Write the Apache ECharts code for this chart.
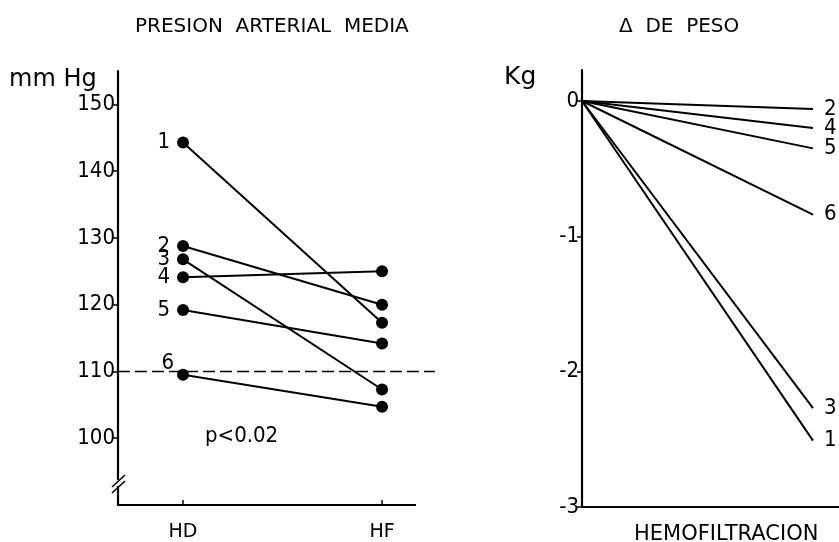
<!DOCTYPE html>
<html><head><meta charset="utf-8">
<script src="https://cdn.jsdelivr.net/npm/echarts@6/dist/echarts.min.js"></script>
<style>html,body{margin:0;padding:0;background:#fff}#c{width:839px;height:542px}</style>
</head><body><div id="c"></div>
<script>
// ---- data ----
const patients = ['1', '2', '3', '4', '5', '6'];
const periods = ['HD', 'HF'];
const pamHD = [144.3, 128.8, 126.8, 124.1, 119.2, 109.5];
const pamHF = [117.3, 120.0, 107.3, 125.0, 114.2, 104.7];
const pesoStart = [0, 0, 0, 0, 0, 0];
const pesoEnd = [-2.51, -0.06, -2.27, -0.20, -0.35, -0.84];
const pamTicks = [100, 110, 120, 130, 140, 150];
const pesoTicks = [-3, -2, -1, 0];
const refLine = 110;
const pLabel = 'p<0.02';

// ---- styles ----
const NARROW = '"Liberation Sans Narrow","DejaVu Sans Condensed","Arial Narrow",sans-serif';
const SANS = '"DejaVu Sans","Liberation Sans",sans-serif';
const INK = '#000';

const xL = { min: 0.6734, max: 2.266 };
const series = [];
patients.forEach((p, i) => {
  series.push({
    type: 'line', name: p, xAxisIndex: 0, yAxisIndex: 0,
    data: [
      { value: [1, pamHD[i]], label: { show: true, position: 'left', distance: 7,
          offset: p === '6' ? [4, -12] : [0, 0],
          formatter: p, fontSize: 22, fontFamily: NARROW, color: INK } },
      { value: [2, pamHF[i]] }
    ],
    symbol: 'circle', symbolSize: 12, showSymbol: true,
    itemStyle: { color: INK },
    lineStyle: { color: INK, width: 2 },
    animation: false, silent: true, z: 3
  });
});
// dashed reference line at 110 mmHg
series.push({
  type: 'line', name: 'ref', xAxisIndex: 0, yAxisIndex: 0,
  data: [[xL.min, refLine], [xL.max, refLine]],
  symbol: 'none', showSymbol: false,
  lineStyle: { color: INK, width: 1.6, type: [12, 5] },
  animation: false, silent: true, z: 2
});
patients.forEach((p, i) => {
  series.push({
    type: 'line', name: p, xAxisIndex: 1, yAxisIndex: 1,
    data: [[0, pesoStart[i]], [1, pesoEnd[i]]],
    symbol: 'none', showSymbol: false,
    lineStyle: { color: INK, width: 2 },
    endLabel: { show: true, formatter: p, distance: 11, fontSize: 22, fontFamily: NARROW, color: INK },
    animation: false, silent: true
  });
});

const option = {
  backgroundColor: '#fff',
  animation: false,
  grid: [
    { left: 118, top: 71, width: 317, height: 437 },
    { left: 582, top: 70, width: 257, height: 437 }
  ],
  xAxis: [
    { type: 'value', gridIndex: 0, min: xL.min, max: xL.max,
      axisLine: { show: true, onZero: false, lineStyle: { color: INK, width: 2.2 } },
      axisTick: { show: true, inside: true, length: 5, customValues: [1, 2], lineStyle: { color: INK, width: 1.5 } },
      axisLabel: { show: true, customValues: [1, 2], formatter: v => periods[Math.round(v) - 1],
        margin: 18, fontSize: 19, fontFamily: SANS, color: INK },
      splitLine: { show: false } },
    { type: 'value', gridIndex: 1, min: 0, max: 1.1126,
      axisLine: { show: true, onZero: false, lineStyle: { color: INK, width: 2.2 } },
      axisTick: { show: false }, axisLabel: { show: false }, splitLine: { show: false } }
  ],
  yAxis: [
    { type: 'value', gridIndex: 0, min: 90, max: 155,
      axisLine: { show: true, lineStyle: { color: INK, width: 2.2 } },
      axisTick: { show: true, length: 5, customValues: pamTicks, lineStyle: { color: INK, width: 1.5 } },
      axisLabel: { show: true, customValues: pamTicks, margin: 3, fontSize: 22, fontFamily: NARROW, color: INK },
      splitLine: { show: false } },
    { type: 'value', gridIndex: 1, min: -3, max: 0.229,
      axisLine: { show: true, onZero: false, lineStyle: { color: INK, width: 2.2 } },
      axisTick: { show: true, length: 5, customValues: pesoTicks, lineStyle: { color: INK, width: 1.5 } },
      axisLabel: { show: true, customValues: pesoTicks, margin: 3, fontSize: 22, fontFamily: NARROW, color: INK },
      splitLine: { show: false } }
  ],
  graphic: [
    { type: 'text', left: 135, top: 17, style: { text: 'PRESION  ARTERIAL  MEDIA', font: '20px ' + SANS, fill: INK } },
    { type: 'text', left: 619, top: 17, style: { text: '\u0394  DE  PESO', font: '20px ' + SANS, fill: INK } },
    { type: 'text', left: 9, top: 68, style: { text: 'mm Hg', font: '24px ' + SANS, fill: INK } },
    { type: 'text', left: 504, top: 65, style: { text: 'Kg', font: '25px ' + SANS, fill: INK } },
    { type: 'text', left: 205, top: 425, style: { text: pLabel, font: '22px ' + NARROW, fill: INK } },
    { type: 'text', left: 634, top: 524, style: { text: 'HEMOFILTRACION', font: '21px ' + SANS, fill: INK } },
    // x axis stops short of the dashed line's end
    { type: 'rect', shape: { x: 416, y: 503, width: 24, height: 10 }, style: { fill: '#fff' }, z: 100 },
    // axis break
    { type: 'rect', shape: { x: 110, y: 480, width: 16, height: 6 }, style: { fill: '#fff' }, z: 100 },
    { type: 'line', shape: { x1: 112, y1: 487, x2: 125, y2: 475 }, style: { stroke: INK, lineWidth: 1.6 }, z: 101 },
    { type: 'line', shape: { x1: 112, y1: 493, x2: 125, y2: 481 }, style: { stroke: INK, lineWidth: 1.6 }, z: 101 }
  ],
  series: series
};
const chart = echarts.init(document.getElementById('c'), null, { renderer: 'canvas' });
chart.setOption(option);
</script></body></html>
